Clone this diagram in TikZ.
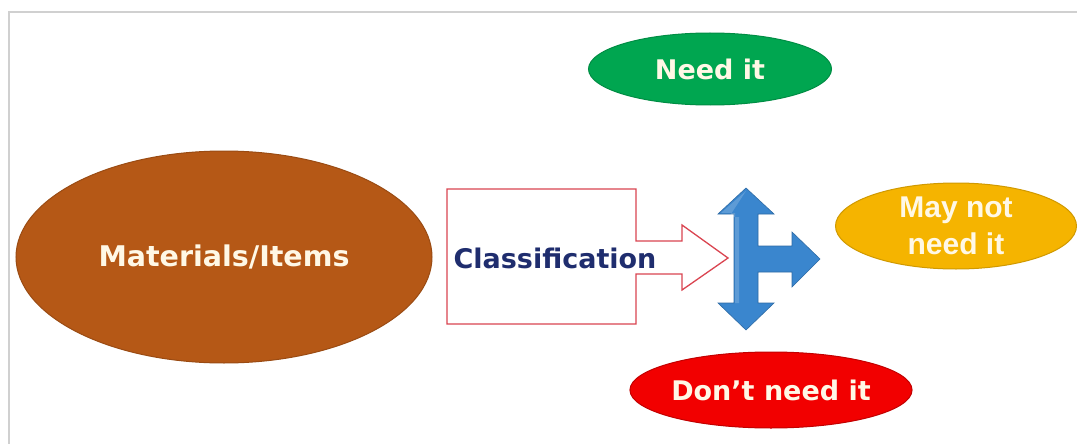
\documentclass[tikz,border=0pt]{standalone}
\usepackage{fontspec}
\setmainfont{DejaVu Sans}
\newfontfamily\arialish{Liberation Sans}
\usetikzlibrary{shapes.geometric}

\definecolor{framegray}{RGB}{208,208,208}
\definecolor{itembrown}{RGB}{181,88,22}
\definecolor{needgreen}{RGB}{0,166,80}
\definecolor{maybeyellow}{RGB}{245,180,0}
\definecolor{dontred}{RGB}{242,0,0}
\definecolor{outlinered}{RGB}{218,68,80}
\definecolor{navytext}{RGB}{31,45,110}
\definecolor{arrowblue}{RGB}{58,134,206}
\definecolor{creamtext}{RGB}{255,248,230}

\tikzset{
  blob/.style={ellipse, inner sep=0pt, text=creamtext, font=\bfseries\fontsize{27}{32}\selectfont},
  framelines/.style={draw=framegray, line width=1.5pt},
}

\begin{document}
\begin{tikzpicture}[x=1pt, y=-1pt]
  \useasboundingbox (0,0) rectangle (1077,444);
  \fill[white] (0,0) rectangle (1077,444);

  % open frame: top and left edges
  \draw[framelines] (1077,12) -- (9,12) -- (9,444);

  % source set
  \node[blob, fill=itembrown, draw=itembrown!85!black, line width=1pt,
        minimum width=416pt, minimum height=212pt,
        font=\bfseries\fontsize{28.5}{34}\selectfont] (items) at (224,257) {Materials/Items};

  % classification block arrow
  \draw[outlinered, line width=1.3pt, fill=white]
    (447,189) -- (636,189) -- (636,241) -- (682,241) -- (682,225) -- (728,258)
    -- (682,290) -- (682,274) -- (636,274) -- (636,324) -- (447,324) -- cycle;
  \node[text=navytext, font=\bfseries\fontsize{27}{32}\selectfont, anchor=center] (cls) at (555,258) {Classification};

  % three-way blue splitter
  \fill[arrowblue, draw=arrowblue!80!black, line width=0.6pt]
    (746,188) -- (774,214) -- (758,214) -- (758,246) -- (792,246) -- (792,232)
    -- (820,259) -- (792,287) -- (792,272) -- (758,272) -- (758,303) -- (774,303)
    -- (746,330) -- (718,303) -- (734,303) -- (734,214) -- (718,214) -- cycle;
  % soft bevel light along the left edges
  \fill[white, opacity=0.18]
    (746,191) -- (721,213) -- (735,213) -- (735,303) -- (739,303) -- (739,217) -- (729,217) -- cycle;

  % outcomes
  \node[blob, fill=needgreen, draw=needgreen!85!black, line width=1pt,
        minimum width=243pt, minimum height=72pt] (need) at (710,69) {Need it};

  \node[blob, fill=maybeyellow, draw=maybeyellow!85!black, line width=1pt,
        minimum width=241pt, minimum height=86pt, align=center,
        font=\arialish\bfseries\fontsize{30}{37}\selectfont] (maybe) at (956,226) {May not\\need it};

  \node[blob, fill=dontred, draw=dontred!80!black, line width=1pt,
        minimum width=247pt, minimum height=76pt] (dont) at (771,390) {Don’t need it};
\end{tikzpicture}
\end{document}
